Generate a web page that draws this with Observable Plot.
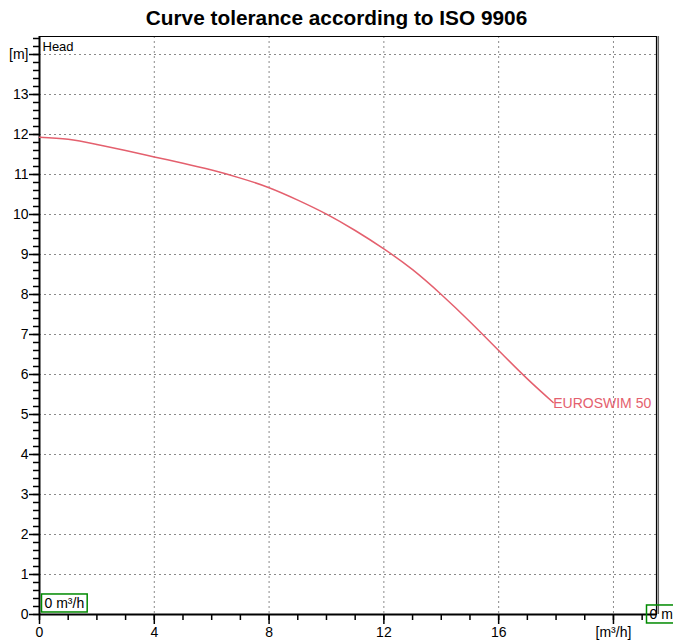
<!DOCTYPE html>
<html>
<head>
<meta charset="utf-8">
<script src="https://cdn.jsdelivr.net/npm/d3@7"></script>
<script src="https://cdn.jsdelivr.net/npm/@observablehq/plot@0.6"></script>
<style>
  body { margin: 0; background: #fff; font-family: "Liberation Sans", Arial, sans-serif; }
  #title { box-sizing: border-box; height: 32px; padding-top: 8px; width: 673px; text-align: center;
           font-weight: bold; font-size: 20.8px; line-height: 20px; color: #000; }
  #chart svg { display: block; overflow: visible; }
</style>
</head>
<body>
<div id="title">Curve tolerance according to ISO 9906</div>
<div id="chart"></div>
<script>
// ---- data ----
const flow = [0, 1, 2, 3, 4, 5, 6, 7, 8, 9, 10, 11, 12, 13, 14, 15, 16, 17, 17.9];
const head = [11.93, 11.88, 11.75, 11.60, 11.44, 11.28, 11.11, 10.91, 10.67, 10.36, 10.01, 9.60, 9.14, 8.62, 8.00, 7.32, 6.60, 5.89, 5.30];
const seriesName = "EUROSWIM 50";

const xTicks = [0, 4, 8, 12, 16, 20];
const xTickLabels = ["0", "4", "8", "12", "16", "[m³/h]"];
const xMinorTicks = [0,1,2,3,4,5,6,7,8,9,10,11,12,13,14,15,16,17,18,19,20,21];
const xGrid = [4, 8, 12, 16, 20];

const yTicks = [0,1,2,3,4,5,6,7,8,9,10,11,12,13,14];
const yTickLabels = ["0","1","2","3","4","5","6","7","8","9","10","11","12","13","[m]"];
const yMinorTicks = [];
for (let i = 0; i <= 72; i++) yMinorTicks.push(+(i * 0.2).toFixed(1));
const yGrid = [1,2,3,4,5,6,7,8,9,10,11,12,13,14];

const xDomain = [0, 21.5];
const yDomain = [0, 14.45];
const axisTitleY = "Head";
const readouts = [
  { label: "0 m³/h", x: 0, y: 0, side: "x" },
  { label: "0 m", x: 21.5, y: 0, side: "y" }
];

// ---- chart ----
const curve = flow.map((f, i) => ({ flow: f, head: head[i] }));
const last = curve[curve.length - 1];
const xLab = new Map(xTicks.map((t, i) => [t, xTickLabels[i]]));
const yLab = new Map(yTicks.map((t, i) => [t, yTickLabels[i]]));
const red = "#e4606e";

const chart = Plot.plot({
  width: 673,
  height: 609,
  marginTop: 4,
  marginLeft: 39,
  marginRight: 17,
  marginBottom: 27,
  x: { domain: xDomain, label: null },
  y: { domain: yDomain, label: null },
  style: { fontFamily: "'Liberation Sans', Arial, sans-serif", fontSize: "14px", color: "#000", background: "#fff" },
  marks: [
    Plot.gridX(xGrid, { stroke: "#8a8a8a", strokeOpacity: 1, strokeDasharray: "2,3" }),
    Plot.gridY(yGrid, { stroke: "#8a8a8a", strokeOpacity: 1, strokeDasharray: "2,3" }),
    Plot.frame({ stroke: "#000", strokeWidth: 1 }),
    Plot.ruleX([xDomain[1]], { stroke: "#666", strokeWidth: 1.5, dx: 1.8 }),
    Plot.ruleX([xDomain[1]], { stroke: "#000", strokeWidth: 1.2 }),
    Plot.axisX(xMinorTicks, { tickSize: 6, tickFormat: () => "", strokeWidth: 1.5, label: null }),
    Plot.axisX(xTicks, { tickSize: 10, tickPadding: 3, tickFormat: d => xLab.get(d), strokeWidth: 1.5, label: null, fontSize: 14 }),
    Plot.axisY(yMinorTicks, { tickSize: 6, tickFormat: () => "", strokeWidth: 1.5, label: null }),
    Plot.axisY(yTicks, { tickSize: 10, tickPadding: 1, tickFormat: d => yLab.get(d), strokeWidth: 1.5, label: null, fontSize: 14 }),
    Plot.ruleX([0], { stroke: "#000", strokeWidth: 2 }),
    Plot.ruleY([0], { stroke: "#000", strokeWidth: 2 }),
    Plot.text([axisTitleY], { frameAnchor: "top-left", dx: 3, dy: 5, textAnchor: "start", lineAnchor: "top", fontSize: 13, fill: "#000" }),
    Plot.line(curve, { x: "flow", y: "head", stroke: red, strokeWidth: 1.5, curve: "natural" }),
    Plot.text([last], { x: "flow", y: "head", text: () => seriesName, textAnchor: "start", dx: 0, dy: 1, fill: red, fontSize: 14 }),
    Plot.text(readouts.filter(d => d.side === "x"), { x: "x", y: "y", text: "label", textAnchor: "start", dx: 5, dy: -11, fill: "#000", fontSize: 14, className: "readout" }),
    Plot.text(readouts.filter(d => d.side === "y"), { x: "x", y: "y", text: "label", textAnchor: "start", dx: -7, dy: 0, fill: "#000", fontSize: 14, className: "readout" })
  ]
});
document.getElementById("chart").appendChild(chart);

// boxes around readouts
chart.querySelectorAll("g.readout text").forEach(t => {
  const b = t.getBBox();
  const r = document.createElementNS("http://www.w3.org/2000/svg", "rect");
  r.setAttribute("x", b.x - 3);
  r.setAttribute("y", b.y - 1);
  r.setAttribute("width", b.width + 6);
  r.setAttribute("height", b.height + 2);
  r.setAttribute("fill", "none");
  r.setAttribute("stroke", "#008a00");
  r.setAttribute("stroke-width", "1.5");
  const tr = t.getAttribute("transform");
  if (tr) r.setAttribute("transform", tr);
  t.parentNode.insertBefore(r, t);
});
</script>
</body>
</html>
